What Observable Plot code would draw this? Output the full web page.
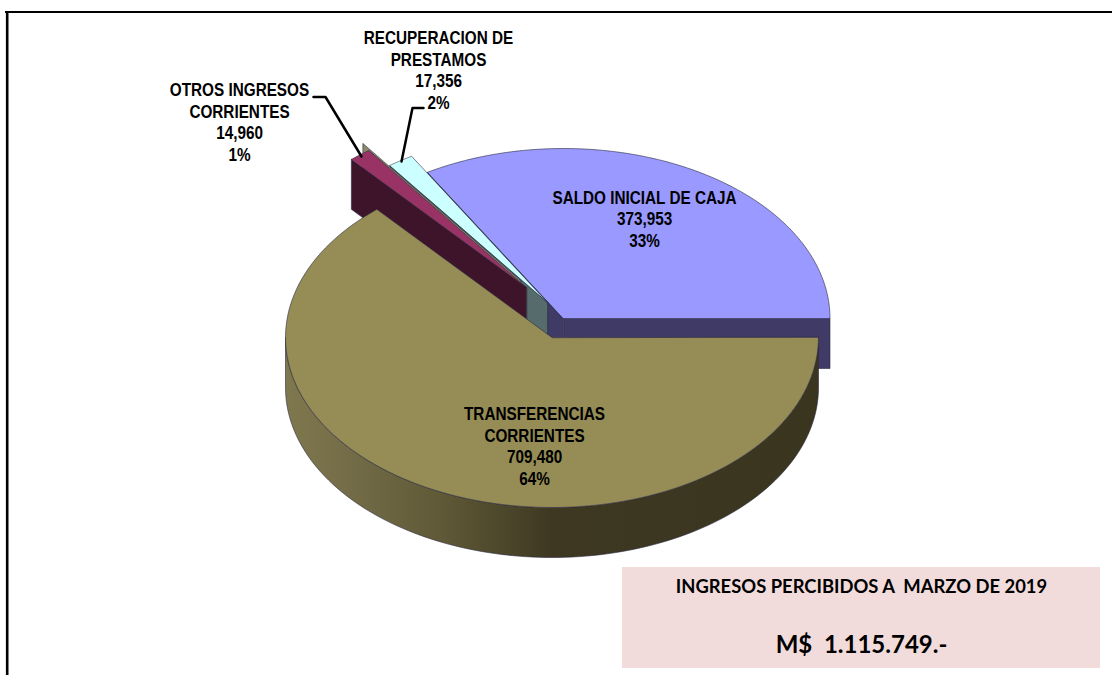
<!DOCTYPE html>
<html><head><meta charset="utf-8">
<style>html,body{margin:0;padding:0;background:#fff;overflow:hidden}svg{display:block}</style>
<script src="https://cdn.jsdelivr.net/npm/d3@7"></script>
<script src="https://cdn.jsdelivr.net/npm/@observablehq/plot@0.6"></script>
</head><body><div id="chart"></div>
<script>
// Data, in counter-clockwise order from the east
const categories = ["SALDO INICIAL DE CAJA", "RECUPERACION DE\nPRESTAMOS", "OTROS INGRESOS\nCORRIENTES", "TRANSFERENCIAS\nCORRIENTES"];
const values = [373953, 17356, 14960, 709480];
const percents = ["33%", "2%", "1%", "64%"];
const valueLabels = ["373,953", "17,356", "14,960", "709,480"];
const topColors = ["#9999ff", "#ccffff", "#993366", "#968c56"];
const wallColors = ["#3f3b66", "#566b6b", "#3d1429", "#3c3621"];
const labelX = [644, 438, 239, 534];
const labelY = [218, 69, 121, 445];
const tipX = [563, 547, 526, 551.5];
const tipY = [318, 302, 287, 337];
const rx = 266.5, ry = 170, depth = 50;

const total = d3.sum(values);
const ang = []; let acc = 0;
values.forEach(v => { const a0 = acc; acc += v / total * 2 * Math.PI; ang.push([a0, acc]); });
const pt = (i, a, dz = 0) => ({x: tipX[i] + rx * Math.cos(a), y: tipY[i] - ry * Math.sin(a) + dz});
const tip = (i, dz = 0) => ({x: tipX[i], y: tipY[i] + dz});
const arc = (i, a0, a1, dz = 0) => d3.range(0, 121).map(k => pt(i, a0 + (a1 - a0) * k / 120, dz));
const edge = "#2a2a40";
const poly = (pts, fill, stroke = edge, sw = 0.6) => Plot.line(pts, {x: "x", y: "y", fill, stroke, strokeWidth: sw, curve: "linear-closed"});
const sideWall = (i, a) => [tip(i), pt(i, a), pt(i, a, depth), tip(i, depth)];
const sector = i => [tip(i), ...arc(i, ang[i][0], ang[i][1])];

// zero-height sliver between the two small slices
const slvX = 520, slvY = 280;
const slvA = ang[1][1];
const sliver = [{x: slvX, y: slvY}, {x: slvX + rx * Math.cos(slvA), y: slvY - ry * Math.sin(slvA)},
  {x: slvX + rx * Math.cos(slvA), y: slvY - ry * Math.sin(slvA) + depth}, {x: slvX, y: slvY + depth}];

const rimFront = [...arc(3, 2 * Math.PI, Math.PI), ...arc(3, Math.PI, 2 * Math.PI, depth)];

const defs = () => {
  const d = d3.create("svg:defs");
  const g = d.append("linearGradient").attr("id", "rim").attr("x1", 0).attr("x2", 1).attr("y1", 0).attr("y2", 0);
  [[0, "#7f784e"], [0.12, "#736c47"], [0.3, "#5e5836"], [0.5, "#3e3822"], [1, "#3a351f"]]
    .forEach(([o, c]) => g.append("stop").attr("offset", o).attr("stop-color", c));
  return d.node();
};

const labels = categories.map((c, i) => ({text: `${c}\n${valueLabels[i]}\n${percents[i]}`, x: labelX[i], y: labelY[i]}));

// The reference's labels are horizontally condensed
const condense = (index, scales, values, dims, ctx, next) => {
  const g = next(index, scales, values, dims, ctx);
  d3.select(g).selectAll("text").attr("transform", function () { return this.getAttribute("transform") + " scale(0.85,1)"; });
  return g;
};

const plot = Plot.plot({
  width: 1112, height: 675, margin: 0,
  x: {domain: [0, 1112], range: [0, 1112], axis: null},
  y: {domain: [0, 675], range: [0, 675], axis: null},
  marks: [
    defs,
    // frame
    Plot.ruleY([11.5], {x1: 5, x2: 1112, stroke: "#000", strokeWidth: 2}),
    Plot.ruleX([6.7], {y1: 11, y2: 675, stroke: "#000", strokeWidth: 2.6}),
    // saldo
    poly([tip(0), pt(0, 0), pt(0, 0, depth), tip(0, depth)], wallColors[0]),
    poly(sideWall(0, ang[0][1]), wallColors[0]),
    poly(sector(0), topColors[0]),
    // recuperacion
    poly(sideWall(1, ang[1][1]), wallColors[1]),
    poly(sector(1), topColors[1]),
    poly(sliver, "#8b8b68"),
    // otros
    poly(sideWall(2, ang[2][1]), wallColors[2]),
    poly(sector(2), topColors[2]),
    // transferencias
    poly(rimFront, "url(#rim)"),
    poly(sector(3), topColors[3]),
    // leaders
    Plot.line([{x: 313, y: 96.5}, {x: 325, y: 96.5}, {x: 361, y: 156}], {x: "x", y: "y", stroke: "#000", strokeWidth: 2.5}),
    Plot.line([{x: 423, y: 107.5}, {x: 412, y: 107.5}, {x: 401, y: 161}], {x: "x", y: "y", stroke: "#000", strokeWidth: 2.5}),
    // labels
    Plot.text(labels, {x: "x", y: "y", text: "text", fontFamily: "'Liberation Sans',sans-serif", fontWeight: 700, fontSize: 18, lineHeight: 21.6 / 18, fill: "#000", render: condense}),
    // box
    Plot.rect([{x1: 622, x2: 1100, y1: 567, y2: 668}], {x1: "x1", x2: "x2", y1: "y1", y2: "y2", fill: "#f2dcdb"}),
    Plot.text(["INGRESOS PERCIBIDOS A  MARZO DE 2019"], {x: 861, y: 587, fontFamily: "Lato", fontWeight: 700, fontSize: 18.4, fill: "#000"}),
    Plot.text(["M$  1.115.749.-"], {x: 861, y: 645, fontFamily: "Lato", fontWeight: 700, fontSize: 24, fill: "#000"})
  ]
});
document.getElementById("chart").append(plot);
</script></body></html>
